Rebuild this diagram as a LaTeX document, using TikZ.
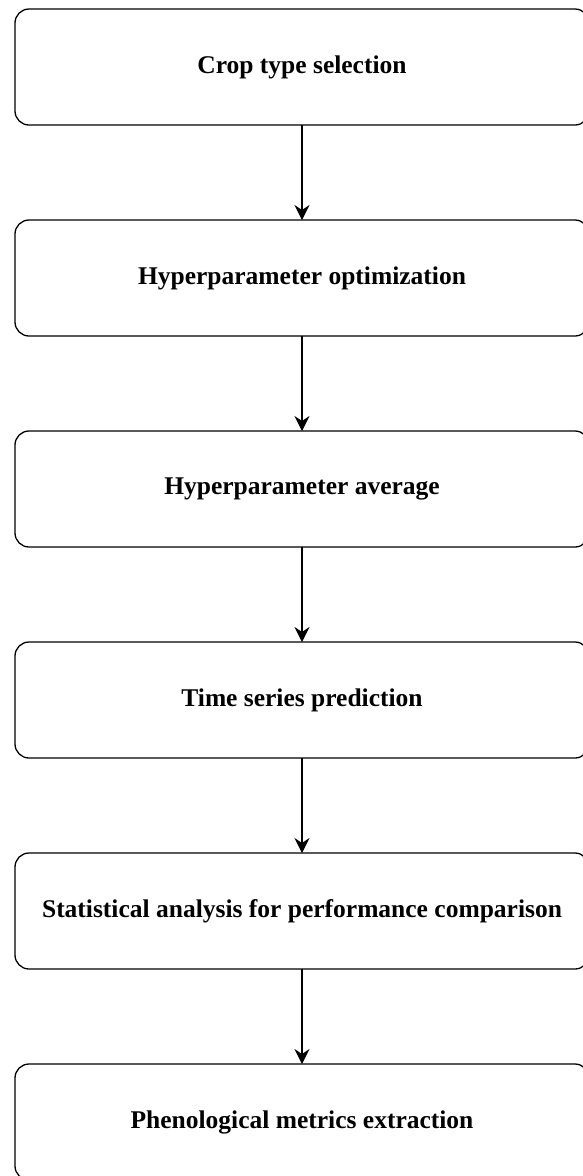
\documentclass[tikz,border=0pt]{standalone}
\usepackage{fontspec}
\setmainfont{Liberation Serif}
\usetikzlibrary{positioning,arrows.meta}

\begin{document}
\begin{tikzpicture}[x=1pt, y=1pt,
    stepbox/.style={draw, line width=1.3pt, rounded corners=14pt,
        minimum width=574pt, minimum height=116pt, inner sep=0pt, outer sep=0pt,
        font=\fontsize{25.5}{30}\selectfont\bfseries},
    flow/.style={line width=1.3pt, -{Stealth[length=15pt, width=15pt, inset=5pt]}},
    node distance=95pt]

% _____ page frame
\useasboundingbox (0,0) rectangle (582,-1176);

% _____ workflow steps
\node[stepbox] (crop) at (302,-67) {Crop type selection};
\node[stepbox, below=of crop] (hyperopt) {Hyperparameter optimization};
\node[stepbox, below=of hyperopt] (hyperavg) {Hyperparameter average};
\node[stepbox, below=of hyperavg] (predict) {Time series prediction};
\node[stepbox, below=of predict] (stats) {Statistical analysis for performance comparison};
\node[stepbox, below=of stats] (pheno) {Phenological metrics extraction};

% _____ arrows
\draw[flow] (crop) -- (hyperopt);
\draw[flow] (hyperopt) -- (hyperavg);
\draw[flow] (hyperavg) -- (predict);
\draw[flow] (predict) -- (stats);
\draw[flow] (stats) -- (pheno);

\end{tikzpicture}
\end{document}
